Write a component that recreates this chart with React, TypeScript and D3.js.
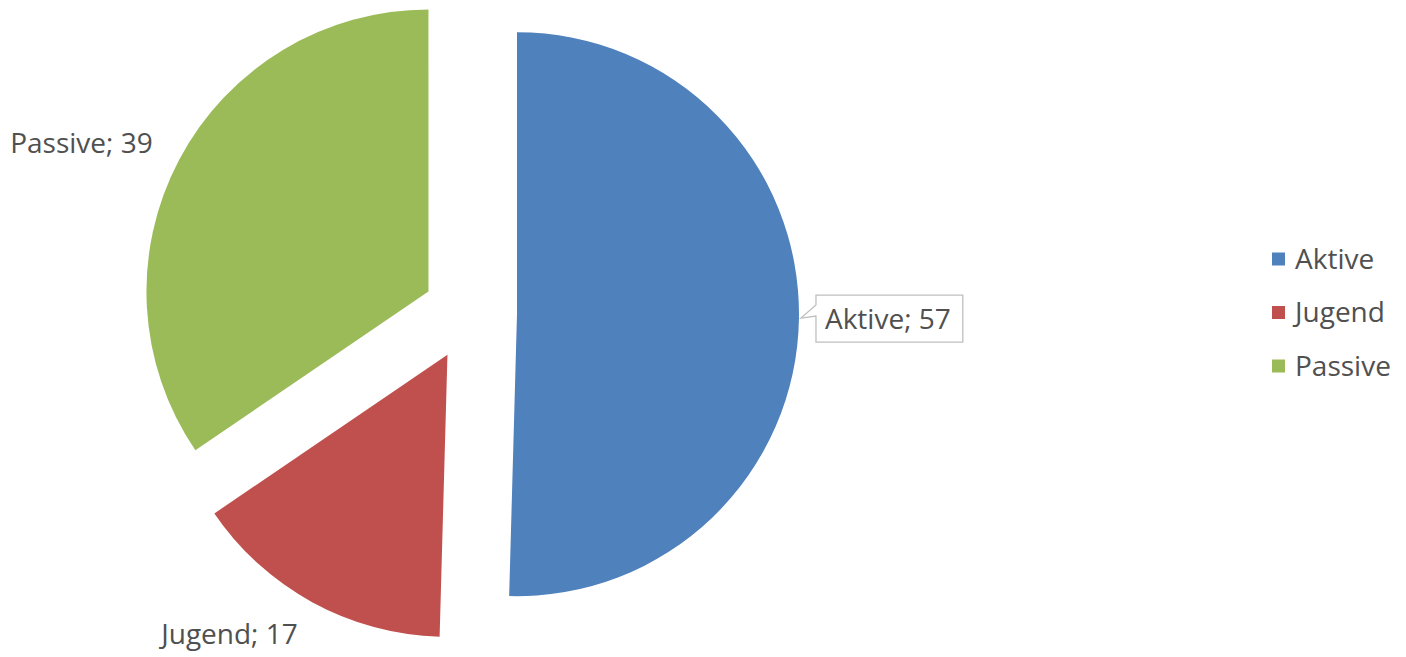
import { useRef, useEffect } from "react";
import * as d3 from "d3";

const categories = ["Aktive", "Jugend", "Passive"];
const values = [57, 17, 39];
const colors = ["#4F81BD", "#C0504D", "#9BBB59"];

const W = 1406;
const H = 657;
const FONT = "'Open Sans', 'Liberation Sans', sans-serif";
const TEXT = "#505050";

export default function App() {
  const svgRef = useRef<SVGSVGElement>(null);

  useEffect(() => {
    const svg = d3.select(svgRef.current);
    svg.selectAll("*").remove();

    const cx = 470;
    const cy = 313.5;
    const r = 282;
    const explode = 47;

    const data = categories.map((c, i) => ({ name: c, value: values[i], color: colors[i] }));
    const pie = d3
      .pie<any>()
      .sort(null)
      .value((d) => d.value);
    const arcs = pie(data);
    const arc = d3.arc<any>().innerRadius(0).outerRadius(r);

    const dir = (a) => [Math.sin(a), -Math.cos(a)];

    const g = svg.append("g").attr("transform", `translate(${cx},${cy})`);

    arcs.forEach((a) => {
      const mid = (a.startAngle + a.endAngle) / 2;
      const [ux, uy] = dir(mid);
      const ox = ux * explode;
      const oy = uy * explode;
      g.append("path")
        .attr("d", arc(a))
        .attr("transform", `translate(${ox},${oy})`)
        .attr("fill", a.data.color);

      const label = `${a.data.name}; ${a.data.value}`;
      if (ux > 0.5) {
        // callout box on the right
        const tipX = ox + ux * r;
        const tipY = oy + uy * r;
        const bx = tipX + 17;
        const by = tipY - 23;
        const t = g
          .append("text")
          .attr("x", bx + 9)
          .attr("y", tipY + 1)
          .attr("dy", "0.35em")
          .attr("fill", TEXT)
          .style("font-family", FONT)
          .style("font-size", "28px")
          .text(label);
        const tw = (t.node() as SVGTextElement).getComputedTextLength();
        const bw = tw + 21;
        const bh = 47;
        const p = d3.path();
        p.moveTo(bx, by);
        p.lineTo(bx, by + 10);
        p.lineTo(tipX + 2, tipY);
        p.lineTo(bx, by + 21);
        p.lineTo(bx, by + bh);
        p.lineTo(bx + bw, by + bh);
        p.lineTo(bx + bw, by);
        p.closePath();
        g.insert("path", "text")
          .attr("d", p.toString())
          .attr("fill", "#fff")
          .attr("stroke", "#BFBFBF")
          .attr("stroke-width", 1.3);
      } else {
        // outside label, anchored at its inner corner
        const Rx = r + 30;
        const Ry = r + 36;
        g.append("text")
          .attr("x", ox + ux * Rx)
          .attr("y", oy + uy * Ry)
          .attr("dy", "0.35em")
          .attr("text-anchor", ux < 0 ? "end" : "start")
          .attr("fill", TEXT)
          .style("font-family", FONT)
          .style("font-size", "28px")
          .text(label);
      }
    });

    // legend
    const ly = d3.scalePoint().domain(categories).range([259, 366]);
    const legend = svg.append("g").attr("transform", "translate(1272,0)");
    categories.forEach((c, i) => {
      legend
        .append("rect")
        .attr("x", 0)
        .attr("y", ly(c)! - 6.5)
        .attr("width", 13)
        .attr("height", 13)
        .attr("fill", colors[i]);
      legend
        .append("text")
        .attr("x", 23)
        .attr("y", ly(c)!)
        .attr("dy", "0.35em")
        .attr("fill", TEXT)
        .style("font-family", FONT)
        .style("font-size", "28px")
        .text(c);
    });
  }, []);

  return (
    <svg
      ref={svgRef}
      width={W}
      height={H}
      style={{ position: "absolute", left: 0, top: 0, background: "#fff" }}
    />
  );
}
